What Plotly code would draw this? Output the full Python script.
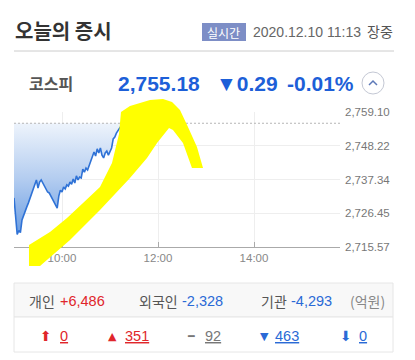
import plotly.graph_objects as go

# ---------------- data ----------------
times = ["09:00","09:02","09:04","09:06","09:08","09:10","09:12","09:14","09:16","09:18",
         "09:20","09:22","09:24","09:26","09:28","09:30","09:32","09:34","09:36","09:38",
         "09:40","09:42","09:44","09:46","09:48","09:50","09:52","09:54","09:56","09:58",
         "10:00","10:02","10:04","10:06","10:08","10:10","10:12","10:14","10:16","10:18",
         "10:20","10:22","10:24","10:26","10:28","10:30","10:32","10:34","10:36","10:38",
         "10:40","10:42","10:44","10:46","10:48","10:50","10:52","10:54","10:56","10:58",
         "11:00","11:02","11:04","11:06","11:08","11:10","11:12","11:13"]
values = [2731.4,2725.9,2719.6,2720.9,2720.2,2724.3,2725.9,2727.5,2728.5,2729.8,
          2731.4,2732.7,2734.0,2735.9,2737.2,2734.6,2736.5,2737.2,2736.2,2735.2,
          2733.9,2733.3,2733.0,2732.0,2730.7,2730.1,2729.1,2728.1,2732.0,2733.9,
          2733.3,2734.9,2734.3,2735.6,2735.2,2736.5,2735.8,2737.5,2736.2,2738.5,
          2737.2,2738.1,2737.8,2740.7,2739.7,2741.0,2740.4,2742.0,2743.6,2744.6,
          2746.2,2744.9,2747.2,2745.9,2747.5,2745.2,2744.3,2745.9,2746.5,2745.2,
          2746.2,2747.5,2750.4,2751.0,2752.3,2753.0,2753.9,2754.3]
prev_close = 2755.47
y_ticks = [2715.57, 2726.45, 2737.34, 2748.22, 2759.10]
y_tick_labels = ["2,715.57", "2,726.45", "2,737.34", "2,748.22", "2,759.10"]
x_ticks = ["10:00", "12:00", "14:00"]
x_range = ["09:00:00", "15:47:30"]

title = "오늘의 증시"
badge = "실시간"
stamp = "2020.12.10 11:13"
status = "장중"
index_name = "코스피"
index_value = "2,755.18"
index_change = "▼0.29"
index_pct = "-0.01%"
investors = [("개인", "+6,486", "#e0262b"), ("외국인", "-2,328", "#2a6ad6"), ("기관", "-4,293", "#2a6ad6")]
unit = "(억원)"
breadth = [("⬆", "0", "#e0262b"), ("▲", "351", "#e0262b"), ("━", "92", "#777777"),
           ("▼", "463", "#2a6ad6"), ("⬇", "0", "#2a6ad6")]

DAY = "2020-12-10 "
xs = [DAY + t for t in times]

W, H = 415, 360
L, R, T, B = 14, 340, 112, 247


def P(x, y):
    return ((x - L) / (R - L), (B - y) / (B - T))


fig = go.Figure()
fig.add_trace(go.Scatter(x=xs, y=[prev_close] * len(xs), mode="lines",
                         line=dict(width=0, color="rgba(0,0,0,0)"), hoverinfo="skip",
                         showlegend=False))
fig.add_trace(go.Scatter(x=xs, y=values, mode="lines", fill="tonexty",
                         fillgradient=dict(type="vertical", start=min(values), stop=prev_close,
                                           colorscale=[[0, "#6b9de2"], [0.5, "#b4cdf0"], [1, "#eef4fc"]]),
                         line=dict(color="#2f72d6", width=1.6), showlegend=False))

shapes = []
# previous close dashed line
shapes.append(dict(type="line", xref="paper", yref="y", x0=0, x1=1, y0=prev_close, y1=prev_close,
                   line=dict(color="#b5b5b5", width=1, dash="2px,2px"), layer="above"))
# header separator
x0, y0 = P(14, 51); x1, _ = P(394, 51)
shapes.append(dict(type="line", xref="paper", yref="paper", x0=x0, x1=x1, y0=y0, y1=y0,
                   line=dict(color="#cccccc", width=1)))
# badge
bx0, by0 = P(202, 41); bx1, by1 = P(246, 23)
shapes.append(dict(type="rect", xref="paper", yref="paper", x0=bx0, x1=bx1, y0=by0, y1=by1,
                   fillcolor="#7d8ec6", line=dict(width=0)))
# circle button
cx0, cy0 = P(362, 94); cx1, cy1 = P(384, 72)
shapes.append(dict(type="circle", xref="paper", yref="paper", x0=cx0, x1=cx1, y0=cy0, y1=cy1,
                   line=dict(color="#c4c8d4", width=1), fillcolor="white"))
a, b, c = P(369, 85), P(373, 81), P(377, 85)
shapes.append(dict(type="path", xref="paper", yref="paper",
                   path=f"M {a[0]},{a[1]} L {b[0]},{b[1]} L {c[0]},{c[1]}",
                   line=dict(color="#5d79b8", width=1.5)))
# bottom panel
px0, py0 = P(14, 352); px1, py1 = P(393, 283)
_, pym = P(14, 317)
shapes.append(dict(type="rect", xref="paper", yref="paper", x0=px0, x1=px1, y0=pym, y1=py1,
                   fillcolor="#f8f8f8", line=dict(color="#e6e6e6", width=1)))
shapes.append(dict(type="rect", xref="paper", yref="paper", x0=px0, x1=px1, y0=py0, y1=pym,
                   fillcolor="white", line=dict(color="#e6e6e6", width=1)))
# hand-drawn yellow arrow
arrow_px = [(29, 266), (29, 245), (50, 232), (67, 218), (83, 203), (100, 187), (112, 163),
            (119, 134), (121, 112), (130, 106), (150, 100), (163, 99), (172, 102), (180, 110),
            (188, 127), (197, 147), (203, 168), (192, 168), (183, 143), (173, 130), (169, 128),
            (157, 143), (147, 158), (130, 178), (100, 210), (70, 240), (40, 266)]
pts = [P(x, y) for x, y in arrow_px]
path = "M " + " L ".join(f"{x:.4f},{y:.4f}" for x, y in pts) + " Z"
shapes.append(dict(type="path", xref="paper", yref="paper", path=path,
                   fillcolor="#ffff00", line=dict(width=0), layer="above"))

ann = []
KR = "Noto Sans CJK KR"
LAT = "Liberation Sans"


def text(x, y, s, size, color, family=KR, bold=False, under=False, anchor="left"):
    px_, py_ = P(x, y)
    f = dict(size=size, color=color, family=family)
    if bold:
        f["weight"] = "bold"
    if under:
        f["lineposition"] = "under"
    ann.append(dict(xref="paper", yref="paper", x=px_, y=py_, text=s, showarrow=False,
                    xanchor=anchor, yanchor="middle", font=f))


text(13, 31, title, 20, "#333333", bold=True)
text(224, 32, badge, 12, "white", anchor="center")
text(251, 32, stamp, 14, "#666666", family=LAT)
text(365, 31, status, 14, "#555555")
text(27, 83, index_name, 16, "#555555", bold=True)
text(116, 83, index_value, 21, "#1d5fd8", family=LAT, bold=True)
text(214, 83, index_change, 21, "#1d5fd8", family=LAT, bold=True)
text(285, 83, index_pct, 21, "#1d5fd8", family=LAT, bold=True)

inv_x = [(27, 58), (137, 180), (259, 289)]
for (lab, val, col), (xl, xv) in zip(investors, inv_x):
    text(xl, 301, lab, 14, "#555555")
    text(xv, 301, val, 14.5, col, family=LAT)
text(348, 301, unit, 14, "#888888")

br_x = [(38, 58), (106, 123), (185, 203), (258, 273), (338, 357)]
for (sym, val, col), (xs_, xv) in zip(breadth, br_x):
    sz = 14 if sym in ("⬆", "⬇") else 11
    text(xs_, 336, sym, sz, col, family="DejaVu Sans", bold=sym == "━")
    text(xv, 336, val, 14.5, col, family=LAT, under=True)

fig.update_layout(
    width=W, height=H, margin=dict(l=L, r=W - R, t=T, b=H - B, pad=0),
    paper_bgcolor="white", plot_bgcolor="white", showlegend=False,
    shapes=shapes, annotations=ann,
    xaxis=dict(type="date", range=[DAY + x_range[0], DAY + x_range[1]],
               tickvals=[DAY + t for t in x_ticks], ticktext=x_ticks,
               showgrid=True, gridcolor="#eeeeee", gridwidth=1,
               showline=True, linecolor="#aaaaaa", linewidth=1,
               ticks="inside", ticklen=5, tickcolor="#aaaaaa",
               tickfont=dict(family=LAT, size=11.5, color="#888888"),
               zeroline=False, fixedrange=True),
    yaxis=dict(range=[y_ticks[0], y_ticks[-1]], side="right",
               tickvals=y_ticks, ticktext=y_tick_labels,
               showgrid=True, gridcolor="#eeeeee", gridwidth=1,
               showline=False, ticks="", ticklabelstandoff=4,
               tickfont=dict(family=LAT, size=11.5, color="#777777"),
               zeroline=False, fixedrange=True),
)

fig.write_html("out.html")
